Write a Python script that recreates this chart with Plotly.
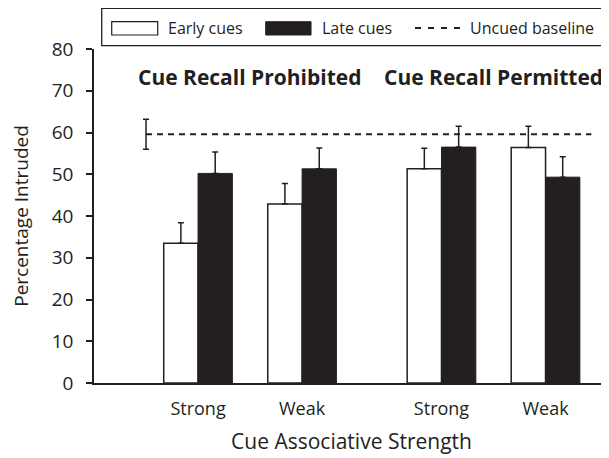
import plotly.graph_objects as go

# ---- data ----
categories = ["Strong", "Weak", "Strong", "Weak"]
cat_pos = [1, 2, 3.34, 4.34]          # two groups: Prohibited, Permitted
early = [33.5, 42.9, 51.3, 56.4]
early_err = [4.9, 4.9, 4.9, 5.1]
late = [50.2, 51.3, 56.5, 49.3]
late_err = [5.1, 5.0, 5.0, 4.9]
baseline = 59.6
baseline_err = 3.6
group_titles = ["Cue Recall Prohibited", "Cue Recall Permitted"]
yticks = [0, 10, 20, 30, 40, 50, 60, 70, 80]

DARK = "#231f20"
FONT = "Open Sans, Noto Sans, sans-serif"

fig = go.Figure()

fig.add_trace(go.Bar(
    x=cat_pos, y=early, name="Early cues",
    marker=dict(color="white", line=dict(color=DARK, width=1.5)),
    error_y=dict(type="data", symmetric=False, array=early_err,
                 arrayminus=[0] * len(early), color=DARK, thickness=1.5, width=3),
    showlegend=False,
))
fig.add_trace(go.Bar(
    x=cat_pos, y=late, name="Late cues",
    marker=dict(color=DARK, line=dict(color=DARK, width=1)),
    error_y=dict(type="data", symmetric=False, array=late_err,
                 arrayminus=[0] * len(late), color=DARK, thickness=1.5, width=3),
    showlegend=False,
))
# uncued baseline
fig.add_trace(go.Scatter(
    x=[0.5, 4.78], y=[baseline, baseline], mode="lines",
    line=dict(color=DARK, width=2, dash="6px,5px"),
    showlegend=False, hoverinfo="skip",
))
fig.add_trace(go.Scatter(
    x=[0.5], y=[baseline], mode="markers",
    marker=dict(size=1, color="rgba(0,0,0,0)"),
    error_y=dict(type="data", array=[baseline_err], color=DARK, thickness=1.5, width=3),
    showlegend=False, hoverinfo="skip",
))

# group titles
fig.add_annotation(x=1.5, y=73.4, text="<b>" + group_titles[0] + "</b>", showarrow=False,
                   font=dict(size=21, color=DARK, family=FONT), xref="x", yref="y")
fig.add_annotation(x=3.84, y=73.4, text="<b>" + group_titles[1] + "</b>", showarrow=False,
                   font=dict(size=21, color=DARK, family=FONT), xref="x", yref="y")

# custom legend box
shapes = [
    dict(type="rect", xref="paper", yref="paper", x0=0.015, x1=0.9936, y0=1.010, y1=1.122,
         line=dict(color=DARK, width=1.3), fillcolor="white"),
    dict(type="rect", xref="paper", yref="paper", x0=0.0344, x1=0.1237, y0=1.0419, y1=1.0817,
         line=dict(color=DARK, width=1.2), fillcolor="white"),
    dict(type="rect", xref="paper", yref="paper", x0=0.3334, x1=0.4214, y0=1.0419, y1=1.0817,
         line=dict(color=DARK, width=1), fillcolor=DARK),
    dict(type="line", xref="paper", yref="paper", x0=0.6233, x1=0.714, y0=1.063, y1=1.063,
         line=dict(color=DARK, width=2, dash="6px,7px")),
]
for txt, xp in [("Early cues", 0.1398), ("Late cues", 0.4388), ("Uncued baseline", 0.7268)]:
    fig.add_annotation(x=xp, y=1.063, xref="paper", yref="paper", text=txt, showarrow=False,
                       xanchor="left", yanchor="middle",
                       font=dict(size=16, color=DARK, family=FONT))

# page body has an 8px margin, so the figure is 8px smaller than the window
fig.update_layout(
    width=601, height=450,
    margin=dict(l=86, r=0, t=41, b=75),
    paper_bgcolor="white", plot_bgcolor="white",
    barmode="group", bargap=0.34, bargroupgap=0,
    shapes=shapes,
    font=dict(family=FONT, color=DARK),
)
fig.update_xaxes(
    range=[0, 4.95], tickmode="array", tickvals=cat_pos, ticktext=categories,
    showline=True, linecolor=DARK, linewidth=1.5, ticks="", showgrid=False, zeroline=False,
    tickfont=dict(size=18, color=DARK, family=FONT), ticklabelstandoff=9,
    title=dict(text="Cue Associative Strength", font=dict(size=21, color=DARK, family=FONT), standoff=15),
)
fig.update_yaxes(
    range=[0, 80], tickmode="array", tickvals=yticks,
    showline=True, linecolor=DARK, linewidth=1.5, ticks="outside", ticklen=6, tickcolor=DARK,
    tickwidth=1.5, showgrid=False, zeroline=False,
    tickfont=dict(size=19, color=DARK, family=FONT), ticklabelstandoff=9,
    title=dict(text="Percentage Intruded", font=dict(size=19, color=DARK, family=FONT), standoff=20),
)

fig.write_html("out.html")
